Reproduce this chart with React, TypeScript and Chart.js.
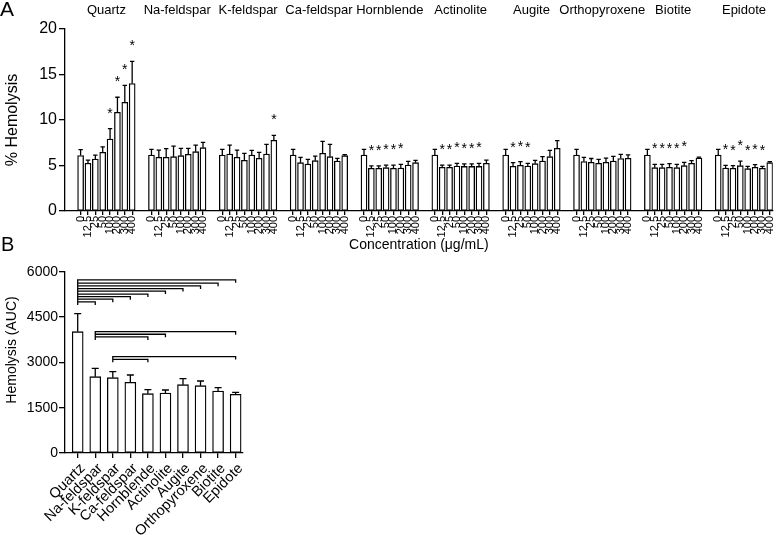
import React, { useEffect, useRef } from 'react';
import { Chart, registerables } from 'chart.js';
Chart.register(...registerables);

const FONT = "'Liberation Sans', Arial, Helvetica, sans-serif";

const minerals = ['Quartz', 'Na-feldspar', 'K-feldspar', 'Ca-feldspar', 'Hornblende', 'Actinolite', 'Augite', 'Orthopyroxene', 'Biotite', 'Epidote'];
const concentrations = ['0', '12.5', '25', '50', '100', '200', '300', '400'];

// Panel A: % hemolysis (mean, SEM) per concentration
const quartzMean = [6.1, 5.25, 5.7, 6.45, 7.9, 10.85, 11.95, 14.0];
const quartzSem = [0.65, 0.35, 0.45, 0.6, 1.15, 1.65, 1.85, 2.45];
const naFeldsparMean = [6.15, 5.9, 5.9, 5.97, 6.08, 6.23, 6.52, 6.96];
const naFeldsparSem = [0.63, 0.8, 0.95, 1.17, 0.81, 0.66, 0.73, 0.59];
const kFeldsparMean = [6.15, 6.26, 5.9, 5.57, 6.15, 5.79, 6.26, 7.77];
const kFeldsparSem = [0.63, 0.99, 0.8, 0.77, 0.52, 0.66, 1.07, 0.55];
const caFeldsparMean = [6.15, 5.31, 5.16, 5.53, 6.35, 5.97, 5.49, 6.08];
const caFeldsparSem = [0.63, 0.59, 0.52, 0.51, 1.3, 1.36, 0.3, 0.11];
const hornblendeMean = [6.15, 4.69, 4.69, 4.76, 4.69, 4.73, 5.05, 5.31];
const hornblendeSem = [0.63, 0.26, 0.26, 0.29, 0.36, 0.4, 0.41, 0.26];
const actinoliteMean = [6.15, 4.8, 4.8, 4.93, 4.9, 4.9, 4.9, 5.24];
const actinoliteSem = [0.63, 0.25, 0.25, 0.3, 0.27, 0.27, 0.33, 0.35];
const augiteMean = [6.15, 4.91, 5.02, 4.95, 5.2, 5.49, 5.97, 6.89];
const augiteSem = [0.63, 0.4, 0.4, 0.29, 0.37, 0.48, 0.7, 0.84];
const orthopyroxeneMean = [6.15, 5.44, 5.35, 5.24, 5.35, 5.48, 5.77, 5.79];
const orthopyroxeneSem = [0.63, 0.46, 0.42, 0.44, 0.47, 0.53, 0.45, 0.37];
const biotiteMean = [6.15, 4.76, 4.76, 4.8, 4.76, 4.98, 5.24, 5.82];
const biotiteSem = [0.63, 0.37, 0.37, 0.4, 0.37, 0.37, 0.29, 0.11];
const epidoteMean = [6.15, 4.73, 4.69, 4.98, 4.65, 4.8, 4.69, 5.31];
const epidoteSem = [0.63, 0.29, 0.29, 0.51, 0.26, 0.29, 0.22, 0.11];

// Panel A: concentration indices marked with *
const quartzSig = [4, 5, 6, 7];
const naFeldsparSig: number[] = [];
const kFeldsparSig = [7];
const caFeldsparSig: number[] = [];
const hornblendeSig = [1, 2, 3, 4, 5];
const actinoliteSig = [1, 2, 3, 4, 5, 6];
const augiteSig = [1, 2, 3];
const orthopyroxeneSig: number[] = [];
const biotiteSig = [1, 2, 3, 4, 5];
const epidoteSig = [1, 2, 3, 4, 5, 6];

// Panel B: hemolysis AUC (mean, SEM)
const aucMean = [4015, 2526, 2493, 2340, 1963, 1986, 2261, 2228, 2052, 1943];
const aucSem = [596, 277, 199, 242, 133, 99, 199, 155, 109, 66];

// Panel B: significance brackets (from mineral index, to mineral index, bracket height in AUC units)
const compFrom = [0, 0, 0, 0, 0, 0, 0, 0, 0, 1, 1, 1, 2, 2];
const compTo = [9, 8, 7, 6, 5, 4, 3, 2, 1, 9, 5, 4, 9, 4];
const compLevel = [5730, 5620, 5530, 5440, 5360, 5260, 5175, 5090, 5000, 4015, 3930, 3840, 3190, 3100];

const meansA = [quartzMean, naFeldsparMean, kFeldsparMean, caFeldsparMean, hornblendeMean, actinoliteMean, augiteMean, orthopyroxeneMean, biotiteMean, epidoteMean];
const semsA = [quartzSem, naFeldsparSem, kFeldsparSem, caFeldsparSem, hornblendeSem, actinoliteSem, augiteSem, orthopyroxeneSem, biotiteSem, epidoteSem];
const sigsA = [quartzSig, naFeldsparSig, kFeldsparSig, caFeldsparSig, hornblendeSig, actinoliteSig, augiteSig, orthopyroxeneSig, biotiteSig, epidoteSig];

const GROUP_STEP = 9.62;
const posA = (g: number, i: number) => g * GROUP_STEP + i;

type BarA = { x: number; mean: number; sem: number; sig: boolean };
const barsA: BarA[] = [];
meansA.forEach((arr, g) =>
  arr.forEach((m, i) => barsA.push({ x: posA(g, i), mean: m, sem: semsA[g][i], sig: sigsA[g].includes(i) }))
);

export default function App() {
  const refA = useRef<HTMLCanvasElement>(null);
  const refB = useRef<HTMLCanvasElement>(null);

  useEffect(() => {
    const panelAPlugin = {
      id: 'panelA',
      afterDatasetsDraw(chart: any) {
        const { ctx, scales } = chart;
        const x = scales.x;
        const y = scales.y;
        const meta = chart.getDatasetMeta(0);
        ctx.save();
        ctx.strokeStyle = '#000';
        ctx.lineWidth = 1.3;
        ctx.beginPath();
        meta.data.forEach((el: any, k: number) => {
          const b = barsA[k];
          const yt = y.getPixelForValue(b.mean + b.sem);
          ctx.moveTo(el.x, el.y);
          ctx.lineTo(el.x, yt);
          ctx.moveTo(el.x - 2.2, yt);
          ctx.lineTo(el.x + 2.2, yt);
        });
        ctx.stroke();
        ctx.fillStyle = '#000';
        ctx.textAlign = 'center';
        ctx.textBaseline = 'alphabetic';
        ctx.font = `14px ${FONT}`;
        meta.data.forEach((el: any, k: number) => {
          const b = barsA[k];
          if (b.sig) ctx.fillText('*', el.x, y.getPixelForValue(b.mean + b.sem) - 11);
        });
        ctx.font = `13px ${FONT}`;
        minerals.forEach((m, g) => {
          ctx.fillText(m, x.getPixelForValue(posA(g, 3.5)), 13.5);
        });
        ctx.font = `21px ${FONT}`;
        ctx.textAlign = 'left';
        ctx.fillText('A', 0, 15.5);
        ctx.restore();
      },
    };

    const panelBPlugin = {
      id: 'panelB',
      afterDatasetsDraw(chart: any) {
        const { ctx, scales } = chart;
        const x = scales.x;
        const y = scales.y;
        const meta = chart.getDatasetMeta(0);
        ctx.save();
        ctx.strokeStyle = '#000';
        ctx.lineWidth = 1.3;
        ctx.beginPath();
        meta.data.forEach((el: any, k: number) => {
          const yt = y.getPixelForValue(aucMean[k] + aucSem[k]);
          ctx.moveTo(el.x, el.y);
          ctx.lineTo(el.x, yt);
          ctx.moveTo(el.x - 3.5, yt);
          ctx.lineTo(el.x + 3.5, yt);
        });
        compFrom.forEach((f, k) => {
          const x1 = x.getPixelForValue(f);
          const x2 = x.getPixelForValue(compTo[k]);
          const yl = y.getPixelForValue(compLevel[k]);
          ctx.moveTo(x1, yl + 3);
          ctx.lineTo(x1, yl);
          ctx.lineTo(x2, yl);
          ctx.lineTo(x2, yl + 3);
        });
        ctx.stroke();
        ctx.fillStyle = '#000';
        ctx.font = `14px ${FONT}`;
        ctx.textAlign = 'center';
        ctx.textBaseline = 'middle';
        ctx.translate(12, 120);
        ctx.rotate(-Math.PI / 2);
        ctx.fillText('Hemolysis (AUC)', 0, 0);
        ctx.restore();
        ctx.save();
        ctx.fillStyle = '#000';
        ctx.font = `20px ${FONT}`;
        ctx.textAlign = 'left';
        ctx.textBaseline = 'alphabetic';
        ctx.fillText('B', 1, 21);
        ctx.restore();
      },
    };

    const tickPosA = barsA.map((b) => b.x);

    const chartA = new Chart(refA.current!, {
      type: 'bar',
      data: {
        datasets: [
          {
            data: barsA.map((b) => ({ x: b.x, y: b.mean })),
            backgroundColor: '#fff',
            borderColor: '#000',
            borderWidth: 1.3,
            barThickness: 6,
            borderSkipped: false,
          } as any,
        ],
      },
      options: {
        animation: false,
        responsive: false,
        maintainAspectRatio: false,
        layout: { padding: { top: 29, right: 6, left: 0, bottom: 0 } },
        plugins: { legend: { display: false }, tooltip: { enabled: false } },
        scales: {
          x: {
            type: 'linear',
            min: -2.12,
            max: 93.98,
            offset: false,
            grid: { display: true, offset: false, drawOnChartArea: false, drawTicks: true, tickLength: 4, color: '#000', lineWidth: 1.3 },
            border: { display: true, color: '#000', width: 1.3 },
            afterBuildTicks: (s: any) => {
              s.ticks = tickPosA.map((v) => ({ value: v }));
            },
            ticks: {
              autoSkip: false,
              minRotation: 90,
              maxRotation: 90,
              padding: 1,
              color: '#000',
              font: { size: 11, family: FONT },
              callback: (_v: any, i: number) => concentrations[i % concentrations.length],
            },
            title: {
              display: true,
              text: 'Concentration (μg/mL)',
              color: '#000',
              font: { size: 14, family: FONT },
              padding: { top: 0, bottom: 1 },
            },
            afterFit: (s: any) => {
              s.height = 44;
            },
          } as any,
          y: {
            min: 0,
            max: 20,
            ticks: { stepSize: 5, color: '#000', font: { size: 16, family: FONT }, padding: 2 },
            grid: { display: true, drawOnChartArea: false, drawTicks: true, tickLength: 6, color: '#000', lineWidth: 1.3 },
            border: { display: true, color: '#000', width: 1.3 },
            title: { display: true, text: '% Hemolysis', color: '#000', font: { size: 16, family: FONT }, padding: { top: 3, bottom: 0 } },
            afterFit: (s: any) => {
              s.width = 65;
            },
          } as any,
        },
      },
      plugins: [panelAPlugin],
    } as any);

    const chartB = new Chart(refB.current!, {
      type: 'bar',
      data: {
        datasets: [
          {
            data: aucMean.map((v, i) => ({ x: i, y: v })),
            backgroundColor: '#fff',
            borderColor: '#000',
            borderWidth: 1.3,
            barThickness: 11,
            borderSkipped: false,
          } as any,
        ],
      },
      options: {
        animation: false,
        responsive: false,
        maintainAspectRatio: false,
        layout: { padding: { top: 41.7, right: 57, left: 0, bottom: 0 } },
        plugins: { legend: { display: false }, tooltip: { enabled: false } },
        scales: {
          x: {
            type: 'linear',
            min: -0.724,
            max: 9.42,
            offset: false,
            grid: { display: true, offset: false, drawOnChartArea: false, drawTicks: true, tickLength: 5, color: '#000', lineWidth: 1.3 },
            border: { display: true, color: '#000', width: 1.3 },
            afterBuildTicks: (s: any) => {
              s.ticks = minerals.map((_m, i) => ({ value: i }));
            },
            ticks: {
              autoSkip: false,
              minRotation: 45,
              maxRotation: 45,
              padding: 2,
              labelOffset: 5,
              color: '#000',
              font: { size: 14.5, family: FONT },
              callback: (_v: any, i: number) => minerals[i],
            },
            afterFit: (s: any) => {
              s.height = 82;
            },
          } as any,
          y: {
            min: 0,
            max: 6000,
            ticks: { stepSize: 1500, color: '#000', font: { size: 14, family: FONT }, padding: 1, callback: (v: any) => String(v) },
            grid: { display: true, drawOnChartArea: false, drawTicks: true, tickLength: 6, color: '#000', lineWidth: 1.3 },
            border: { display: true, color: '#000', width: 1.3 },
            afterFit: (s: any) => {
              s.width = 65;
            },
          } as any,
        },
      },
      plugins: [panelBPlugin],
    } as any);

    return () => {
      chartA.destroy();
      chartB.destroy();
    };
  }, []);

  return (
    <div style={{ position: 'absolute', left: 0, top: 0, width: 784, height: 535, background: '#fff' }}>
      <canvas ref={refA} width={784} height={255} style={{ position: 'absolute', left: 0, top: 0, width: 784, height: 255 }} />
      <canvas ref={refB} width={300} height={305} style={{ position: 'absolute', left: 0, top: 230, width: 300, height: 305 }} />
    </div>
  );
}
